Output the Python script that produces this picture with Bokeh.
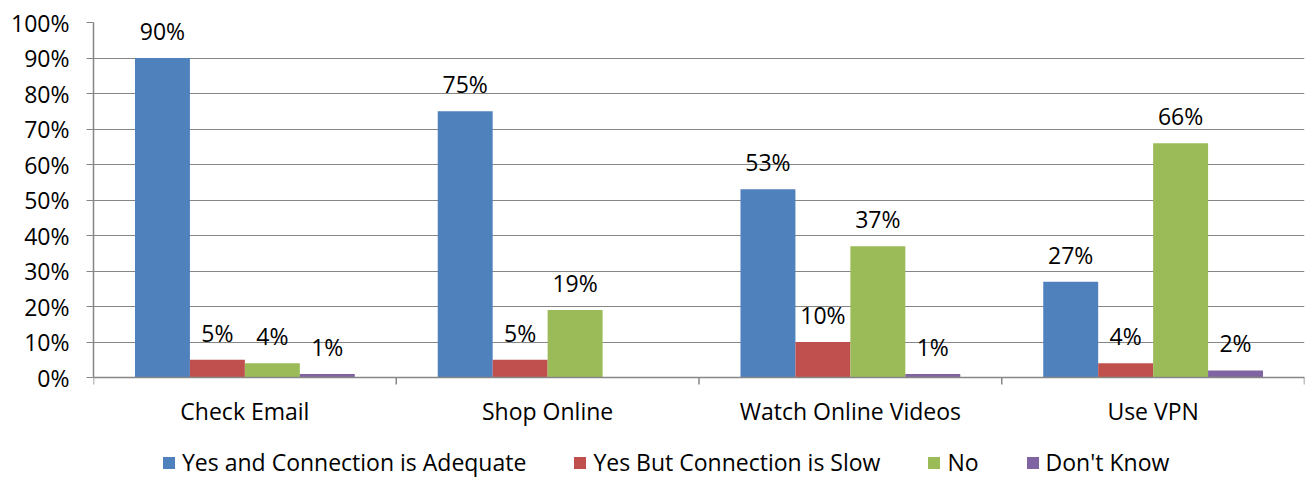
import math
from bokeh.plotting import figure
from bokeh.models import (ColumnDataSource, FixedTicker, Range1d, Legend, LegendItem)
from bokeh.core.properties import value
from bokeh.embed import file_html
from bokeh.resources import INLINE

categories = ["Check Email", "Shop Online", "Watch Online Videos", "Use VPN"]
series_names = ["Yes and Connection is Adequate", "Yes But Connection is Slow", "No", "Don't Know"]
adequate = [90, 75, 53, 27]
slow = [5, 5, 10, 4]
no = [4, 19, 37, 66]
dont_know = [1, 0, 1, 2]
y_ticks = [0, 10, 20, 30, 40, 50, 60, 70, 80, 90, 100]

series = [adequate, slow, no, dont_know]
colors = ["#4F81BD", "#C0504D", "#9BBB59", "#8064A2"]
FONT = "Open Sans"
FS = "23px"
AX = "#868686"
bar_w = 0.1815

# plot area: 0%..100% spans 355 px; area below 0 holds category labels + legend
PX_PER_UNIT = 355 / 100
below_px = 101
p = figure(frame_width=1211, frame_height=355 + below_px, output_backend="svg", toolbar_location=None,
           x_range=Range1d(0, len(categories)),
           y_range=Range1d(-below_px / PX_PER_UNIT, 100),
           x_axis_location=None)
p.min_border_left = 93
p.min_border_right = 4
p.min_border_top = 22
p.min_border_bottom = 0
p.outline_line_color = None
p.background_fill_color = "white"
p.border_fill_color = "white"

# grid
p.xgrid.grid_line_color = None
p.ygrid.ticker = FixedTicker(ticks=y_ticks)
p.ygrid.grid_line_color = "#868686"
p.ygrid.grid_line_width = 1

items = []
for j, (vals, name, col) in enumerate(zip(series, series_names, colors)):
    xs = [i + 0.5 + (j - 1.5) * bar_w for i in range(len(categories))]
    src = ColumnDataSource(dict(x=xs, top=vals))
    r = p.vbar(x="x", top="top", bottom=0, width=bar_w, source=src, fill_color=col, line_color=None)
    items.append(LegendItem(label=name, renderers=[r]))
    lx = [x for x, v in zip(xs, vals) if v > 0]
    lv = [v for v in vals if v > 0]
    lsrc = ColumnDataSource(dict(x=lx, y=lv, t=[f"{v}%" for v in lv]))
    p.text(x="x", y="y", text="t", source=lsrc, text_align="center", text_baseline="middle",
           y_offset=-27, text_font=value(FONT), text_font_size=FS, text_color="black")

# category axis (line at 0%, boundary ticks, category labels)
p.hspan(y=[0], line_color=AX, line_width=1.5)
bounds = list(range(len(categories) + 1))
p.ray(x=bounds, y=[0] * len(bounds), length=7, length_units="screen", angle=-math.pi / 2,
      line_color=AX, line_width=1.5)
centers = [i + 0.5 for i in range(len(categories))]
csrc = ColumnDataSource(dict(x=centers, y=[0] * len(centers), t=categories))
p.text(x="x", y="y", text="t", source=csrc, text_align="center", text_baseline="middle",
       y_offset=33, text_font=value(FONT), text_font_size=FS, text_color="black")

# y axis
yax = p.yaxis[0]
yax.bounds = (0, 100)
yax.ticker = FixedTicker(ticks=y_ticks)
yax.major_label_overrides = {t: f"{t}%" for t in y_ticks}
yax.axis_line_color = AX
yax.axis_line_width = 1.5
yax.major_tick_line_color = AX
yax.major_tick_in = 0
yax.major_tick_out = 7
yax.minor_tick_line_color = None
yax.major_label_text_font = FONT
yax.major_label_text_font_size = FS
yax.major_label_text_color = "black"
yax.major_label_standoff = 17

legend = Legend(items=items, orientation="horizontal", location=(68, 0))
legend.border_line_color = None
legend.background_fill_alpha = 0
legend.label_text_font = FONT
legend.label_text_font_size = FS
legend.label_text_color = "black"
legend.glyph_width = 15
legend.glyph_height = 15
legend.label_standoff = 6
legend.spacing = 46
legend.padding = 0
legend.margin = 0
p.add_layout(legend, "center")

open("out.html", "w").write(file_html(p, INLINE))
